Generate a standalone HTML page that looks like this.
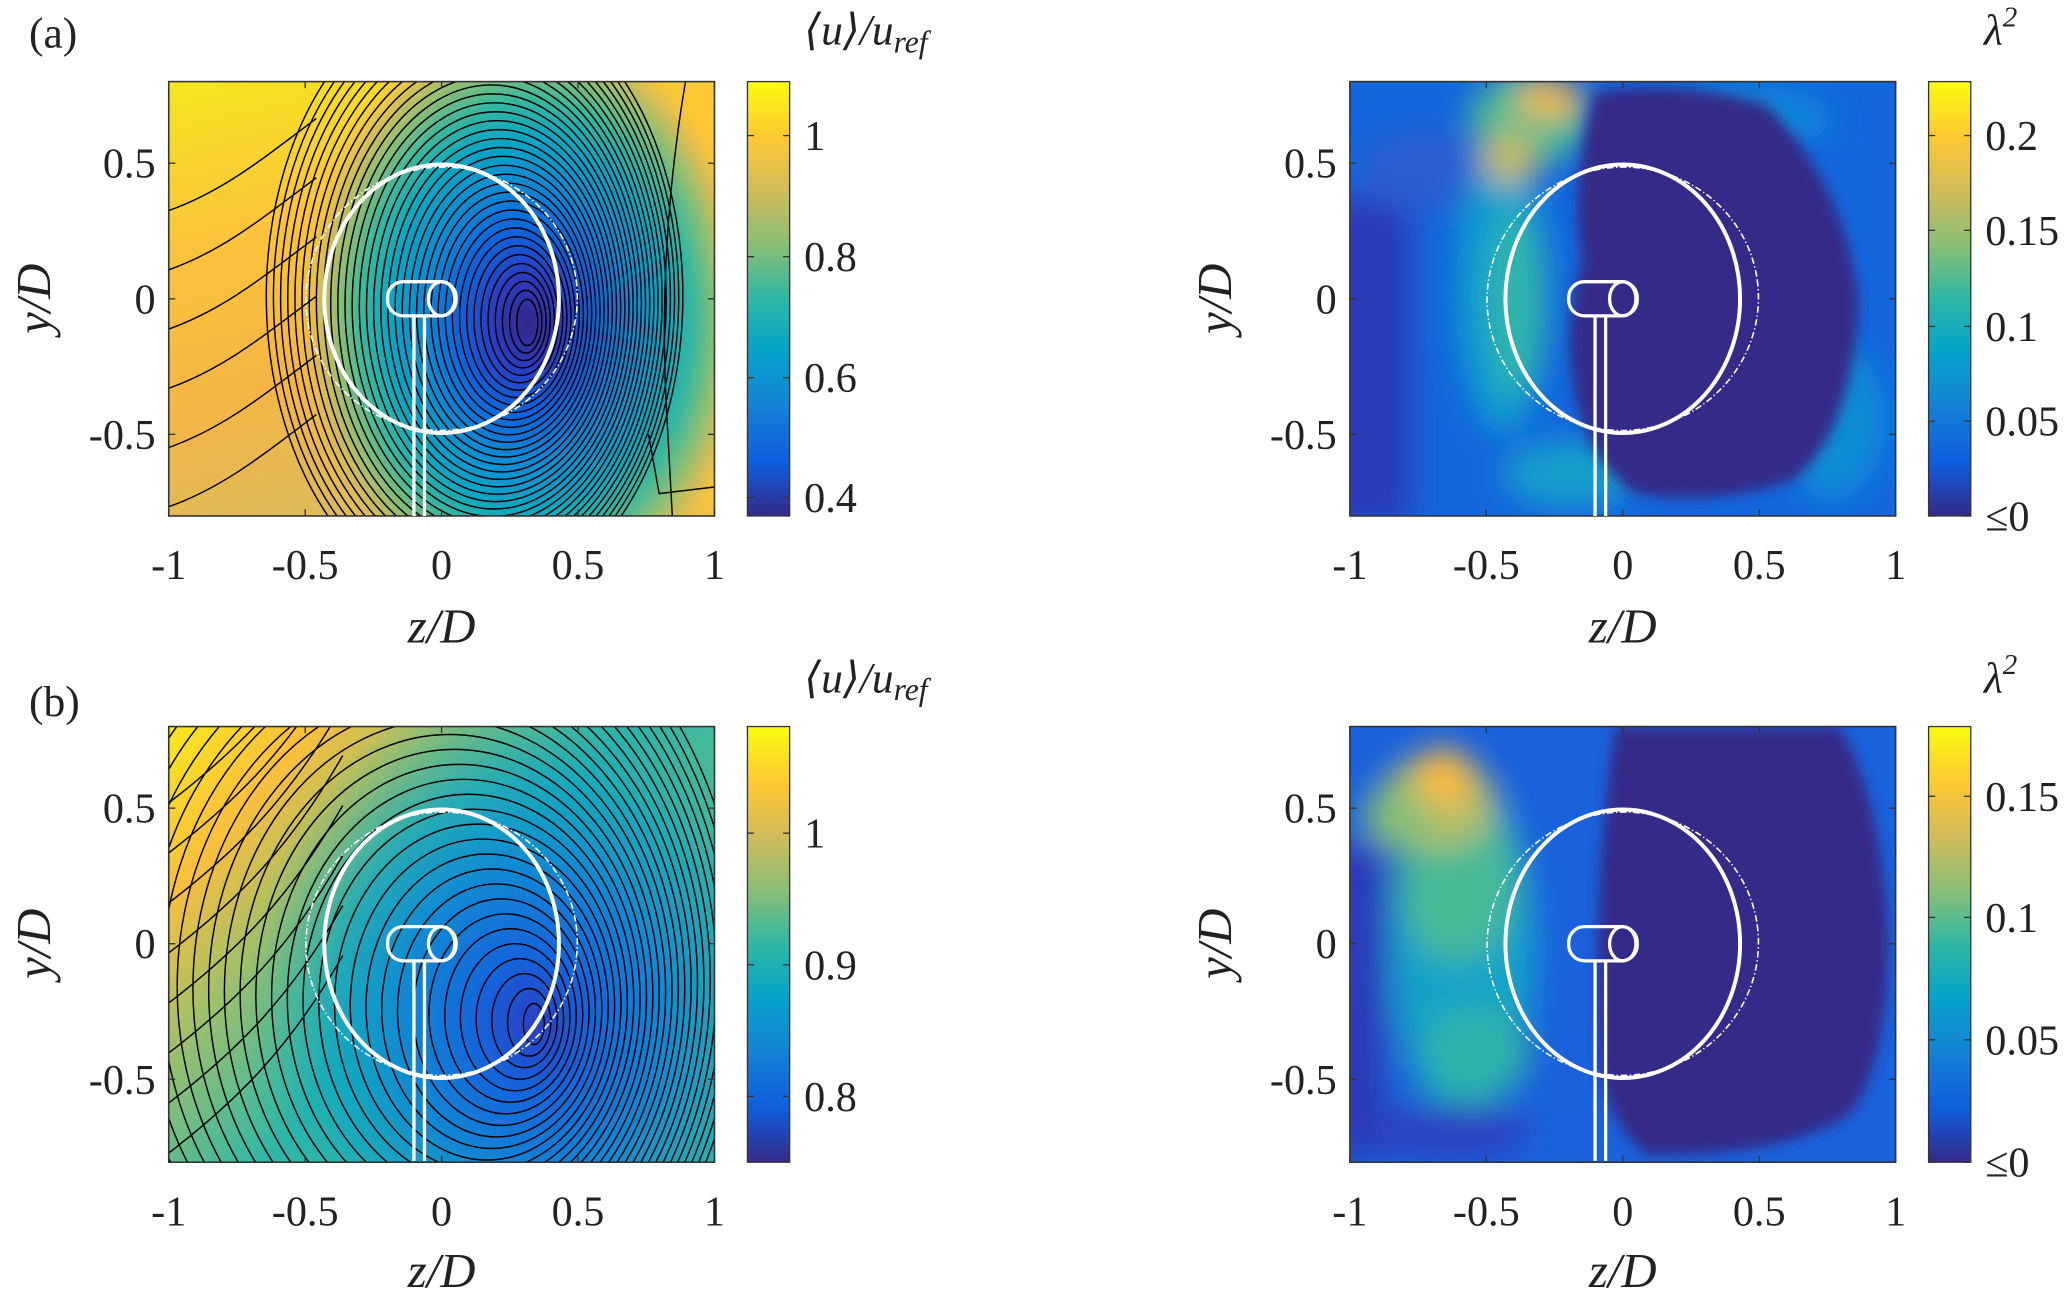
<!DOCTYPE html>
<html><head><meta charset="utf-8"><style>
html,body{margin:0;padding:0;background:#fff;overflow:hidden;width:2067px;height:1307px;position:relative;}
svg{display:block;position:absolute;left:0;top:0;}
text{font-family:"Liberation Serif","DejaVu Serif",serif;fill:#222;}
</style></head><body>
<svg id="s" width="2067" height="1307" viewBox="0 0 1568 993" preserveAspectRatio="none" xmlns="http://www.w3.org/2000/svg" font-family="Liberation Serif, DejaVu Serif, serif">
<defs>
<linearGradient id="parula" x1="0" y1="1" x2="0" y2="0">
<stop offset="0" stop-color="#352a87"/><stop offset="0.12" stop-color="#0f5cdd"/><stop offset="0.25" stop-color="#1481d6"/><stop offset="0.38" stop-color="#06a4ca"/><stop offset="0.5" stop-color="#2eb7a4"/><stop offset="0.62" stop-color="#87bf77"/><stop offset="0.75" stop-color="#d1bb59"/><stop offset="0.87" stop-color="#fec832"/><stop offset="1" stop-color="#f9fb0e"/>
</linearGradient>
<linearGradient id="bgA" x1="0" y1="0" x2="0.3" y2="1">
<stop offset="0" stop-color="#f5e61f"/><stop offset="0.35" stop-color="#fbc43a"/><stop offset="0.7" stop-color="#f4b545"/><stop offset="1" stop-color="#dcbb5a"/>
</linearGradient>
<radialGradient id="blobA" gradientUnits="userSpaceOnUse" cx="400" cy="245" r="175" gradientTransform="translate(400 245) scale(1 1.35) translate(-400 -245)">
<stop offset="0" stop-color="#33288a"/><stop offset="0.15" stop-color="#2c3cc0"/><stop offset="0.3" stop-color="#0e64dc"/><stop offset="0.45" stop-color="#0f8ad3"/><stop offset="0.6" stop-color="#0ba7c2"/><stop offset="0.72" stop-color="#3ab89c"/><stop offset="0.82" stop-color="#8ebe73"/><stop offset="0.91" stop-color="#d4bb5a" stop-opacity="0.8"/><stop offset="1" stop-color="#fbc43a" stop-opacity="0"/>
</radialGradient>
<linearGradient id="bgB" x1="0" y1="0" x2="0.9" y2="0.6">
<stop offset="0" stop-color="#f8e81d"/><stop offset="0.2" stop-color="#fbbf3c"/><stop offset="0.42" stop-color="#8fbf73"/><stop offset="0.65" stop-color="#2cb7a8"/><stop offset="1" stop-color="#6dbd82"/>
</linearGradient>
<radialGradient id="blobB" gradientUnits="userSpaceOnUse" cx="405" cy="778" r="220" gradientTransform="translate(405 778) scale(1 1.2) translate(-405 -778)">
<stop offset="0" stop-color="#2a3fc2"/><stop offset="0.2" stop-color="#1465dc"/><stop offset="0.45" stop-color="#1288d4"/><stop offset="0.7" stop-color="#08a4c8" stop-opacity="0.7"/><stop offset="1" stop-color="#2bb5a6" stop-opacity="0"/>
</radialGradient>
<clipPath id="cA"><rect x="128" y="62" width="414" height="330"/></clipPath>
<clipPath id="cB"><rect x="128" y="552" width="414" height="331"/></clipPath>
<clipPath id="cC"><rect x="1024" y="62" width="414" height="330"/></clipPath>
<clipPath id="cD"><rect x="1024" y="552" width="414" height="331"/></clipPath>
<filter id="bl" x="-50%" y="-50%" width="200%" height="200%"><feGaussianBlur stdDeviation="12"/></filter>
<filter id="bl2" x="-50%" y="-50%" width="200%" height="200%"><feGaussianBlur stdDeviation="5"/></filter>
</defs>

<g clip-path="url(#cA)">
<rect x="128" y="62" width="414" height="330" fill="url(#bgA)"/>
<rect x="490" y="62" width="60" height="330" fill="#fcc832" filter="url(#bl)"/>
<ellipse cx="400" cy="245" rx="180" ry="240" fill="url(#blobA)"/>
<g id="contA" fill="none" stroke="#000" stroke-width="1.1"></g>
</g>
<rect x="128" y="62" width="414" height="330" fill="none" stroke="#333" stroke-width="1.2"/>

<g clip-path="url(#cB)">
<rect x="128" y="552" width="414" height="331" fill="url(#bgB)"/>
<ellipse cx="405" cy="778" rx="230" ry="280" fill="url(#blobB)"/>
<g id="contB" fill="none" stroke="#000" stroke-width="1.1"></g>
</g>
<rect x="128" y="552" width="414" height="331" fill="none" stroke="#333" stroke-width="1.2"/>

<g clip-path="url(#cC)">
<rect x="1024" y="62" width="414" height="330" fill="#1466dd"/>
<g filter="url(#bl)">
<rect x="1000" y="150" width="70" height="250" fill="#2c3bb8"/>
<ellipse cx="1080" cy="130" rx="50" ry="30" fill="#2a5fd0"/>
<ellipse cx="1140" cy="220" rx="35" ry="110" fill="#0f9fcf"/>
<ellipse cx="1150" cy="230" rx="20" ry="70" fill="#30b6a8"/>
<ellipse cx="1160" cy="90" rx="45" ry="35" fill="#4fbb92"/>
<ellipse cx="1175" cy="75" rx="25" ry="15" fill="#f5b744"/>
<ellipse cx="1145" cy="120" rx="20" ry="20" fill="#c9bc5e"/>
<ellipse cx="1190" cy="360" rx="50" ry="25" fill="#15a0cc"/>
<ellipse cx="1390" cy="320" rx="40" ry="60" fill="#0e8ed6"/>
<ellipse cx="1320" cy="90" rx="70" ry="25" fill="#0c86d8"/>
</g>
<path d="M1210 70 Q1280 60 1340 80 Q1400 140 1410 230 Q1405 330 1360 365 Q1300 385 1240 375 Q1205 350 1195 300 Q1185 250 1200 200 Q1190 140 1210 70Z" fill="#352a87" filter="url(#bl2)"/>
</g>
<rect x="1024" y="62" width="414" height="330" fill="none" stroke="#333" stroke-width="1.2"/>

<g clip-path="url(#cD)">
<rect x="1024" y="552" width="414" height="331" fill="#1a62dc"/>
<g filter="url(#bl)">
<rect x="1010" y="640" width="40" height="240" fill="#2b3bb5"/>
<ellipse cx="1110" cy="720" rx="55" ry="130" fill="#12a3c8"/>
<ellipse cx="1105" cy="670" rx="45" ry="60" fill="#47ba96"/>
<ellipse cx="1090" cy="610" rx="45" ry="35" fill="#b4bd66"/>
<ellipse cx="1095" cy="590" rx="22" ry="22" fill="#fcbb3c"/>
<ellipse cx="1060" cy="620" rx="25" ry="25" fill="#88bf77"/>
<ellipse cx="1120" cy="800" rx="40" ry="35" fill="#2eb3aa"/>
<ellipse cx="1100" cy="860" rx="60" ry="20" fill="#2d40c0"/>
</g>
<path d="M1225 552 L1395 552 Q1425 600 1432 700 Q1435 800 1405 845 Q1360 878 1250 878 Q1225 860 1215 820 Q1205 700 1225 552Z" fill="#352a87" filter="url(#bl2)"/>
</g>
<rect x="1024" y="552" width="414" height="331" fill="none" stroke="#333" stroke-width="1.2"/>

<g id="turb" fill="none" stroke="#fff">
<ellipse cx="335" cy="227" rx="103" ry="100" stroke-width="1.2" stroke-dasharray="5 2 1 2" transform="rotate(-8 335 227)"/>
<ellipse cx="335" cy="227" rx="89" ry="102" stroke-width="3"/>
<rect x="294" y="214" width="52" height="26" rx="12" stroke-width="2.5"/>
<ellipse cx="335" cy="227" rx="10" ry="13" stroke-width="2.5"/>
<line x1="314" y1="240" x2="314" y2="392" stroke-width="2.5"/>
<line x1="322" y1="240" x2="322" y2="392" stroke-width="2.5"/>
</g>
<use href="#turb" transform="translate(0 490)"/>
<use href="#turb" transform="translate(896 0)"/>
<use href="#turb" transform="translate(896 490)"/>

<rect x="567" y="62" width="32" height="330" fill="url(#parula)" stroke="#333" stroke-width="1"/>
<rect x="567" y="552" width="32" height="331" fill="url(#parula)" stroke="#333" stroke-width="1"/>
<rect x="1463" y="62" width="32" height="330" fill="url(#parula)" stroke="#333" stroke-width="1"/>
<rect x="1463" y="552" width="32" height="331" fill="url(#parula)" stroke="#333" stroke-width="1"/>

<g id="ticks" stroke="#333" stroke-width="1"></g>

<g font-size="33">
<text x="22" y="36">(a)</text>
<text x="22" y="544">(b)</text>
<text x="610" y="34" font-style="italic">⟨u⟩/u<tspan font-size="24" dy="6">ref</tspan></text>
<text x="610" y="526" font-style="italic">⟨u⟩/u<tspan font-size="24" dy="6">ref</tspan></text>
<text x="1505" y="34" font-style="italic">λ<tspan font-size="22" dy="-14">2</tspan></text>
<text x="1505" y="526" font-style="italic">λ<tspan font-size="22" dy="-14">2</tspan></text>
</g>
<g font-size="32" id="labels"></g>
<g font-size="37" font-style="italic" text-anchor="middle">
<text x="335" y="488">z/D</text><text x="335" y="978">z/D</text>
<text x="1231" y="488">z/D</text><text x="1231" y="978">z/D</text>
<text transform="translate(38 227) rotate(-90)">y/D</text>
<text transform="translate(38 717) rotate(-90)">y/D</text>
<text transform="translate(934 227) rotate(-90)">y/D</text>
<text transform="translate(934 717) rotate(-90)">y/D</text>
</g>
</svg>
<script>
var NS="http://www.w3.org/2000/svg";
function el(p,t,a,txt){var e=document.createElementNS(NS,t);for(var k in a)e.setAttribute(k,a[k]);if(txt!=null)e.textContent=txt;p.appendChild(e);return e;}
var cA=document.getElementById('contA');
for(var i=0;i<36;i++){var t=i/35;var rx=8+t*150;var ry=rx*1.45+6;el(cA,'ellipse',{cx:400-t*40,cy:245-t*20,rx:rx,ry:ry});}
for(var k=0;k<6;k++){var y0=150+k*45;el(cA,'path',{d:'M128 '+(y0+10)+' C170 '+(y0-5)+' 200 '+(y0-30)+' 240 '+(y0-60)});}
el(cA,'path',{d:'M510 392 L505 300 Q500 180 520 62'});
el(cA,'path',{d:'M542 370 L500 375 L492 330'});
var cB=document.getElementById('contB');
for(var i=0;i<32;i++){var t=i/31;var rx=8+t*260;var ry=rx*1.2+6;el(cB,'ellipse',{cx:405-t*110,cy:778-t*40,rx:rx,ry:ry});}
for(var k=0;k<8;k++){var y0=610+k*38;el(cB,'path',{d:'M128 '+y0+' C180 '+(y0-40)+' 220 '+(y0-80)+' 260 '+(y0-150)});}
var tk=document.getElementById('ticks'),lb=document.getElementById('labels');
function axes(ox,oy,h){
 var xs=[-1,-0.5,0,0.5,1],xl=['-1','-0.5','0','0.5','1'];
 for(var i=0;i<5;i++){var x=ox+207*(xs[i]+1);el(tk,'line',{x1:x,y1:oy+h,x2:x,y2:oy+h-5});el(tk,'line',{x1:x,y1:oy,x2:x,y2:oy+5});el(lb,'text',{x:x,y:oy+h+48,'text-anchor':'middle'},xl[i]);}
 var ys=[0.5,0,-0.5],yl=['0.5','0','-0.5'];var yc=oy+165;
 for(var i=0;i<3;i++){var y=yc-ys[i]*206;el(tk,'line',{x1:ox,y1:y,x2:ox+5,y2:y});el(tk,'line',{x1:ox+414,y1:y,x2:ox+409,y2:y});el(lb,'text',{x:ox-10,y:y+11,'text-anchor':'end'},yl[i]);}
}
axes(128,62,330);axes(128,552,331);axes(1024,62,330);axes(1024,552,331);
function cb(x,vals){for(var i=0;i<vals.length;i++){el(tk,'line',{x1:x,y1:vals[i][0],x2:x+5,y2:vals[i][0]});el(tk,'line',{x1:x+32,y1:vals[i][0],x2:x+27,y2:vals[i][0]});el(lb,'text',{x:x+43,y:vals[i][0]+11},vals[i][1]);}}
cb(567,[[103,'1'],[195,'0.8'],[287,'0.6'],[378,'0.4']]);
cb(567,[[633,'1'],[733,'0.9'],[833,'0.8']]);
cb(1463,[[103,'0.2'],[175,'0.15'],[248,'0.1'],[320,'0.05'],[392,'≤0']]);
cb(1463,[[605,'0.15'],[697,'0.1'],[790,'0.05'],[883,'≤0']]);
</script>
</body></html>
